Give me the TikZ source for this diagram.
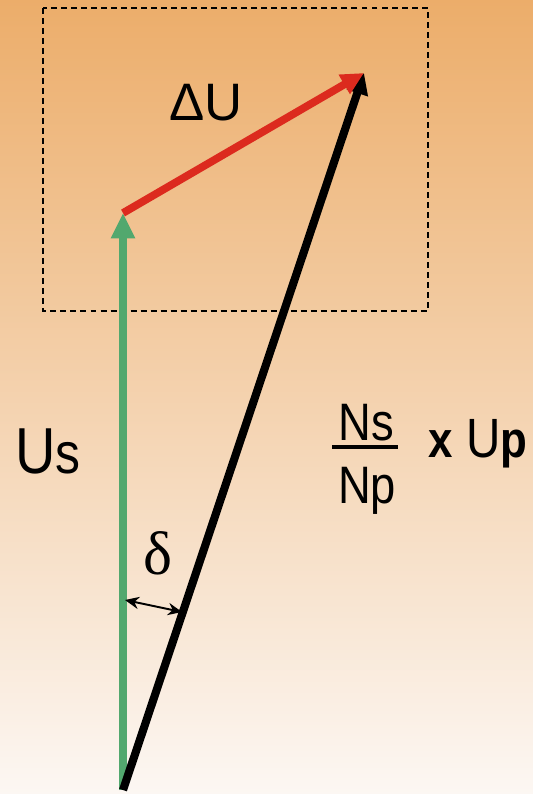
\documentclass[tikz,border=0pt]{standalone}
\usepackage{fontspec}
\setmainfont{Liberation Sans}
\newfontfamily\narrowSans[FakeStretch=0.86]{Liberation Sans}
\newfontfamily\greekSerif{Liberation Serif}
\usepackage{xcolor}
\definecolor{bgTop}{RGB}{236, 173, 106}
\definecolor{bgMid}{RGB}{246, 216, 192}
\definecolor{bgBottom}{RGB}{252, 247, 243}
\definecolor{usGreen}{RGB}{82, 168, 110}
\definecolor{duRed}{RGB}{220, 42, 30}
\usepackage{tikz}
\usetikzlibrary{
    arrows.meta,
    positioning,
    calc
}

\begin{document}
\begin{tikzpicture}[
    x=0.02cm, y=-0.02cm,
    phasorUs/.style={
        draw=usGreen, line width=4.2pt,
        -{Triangle[length=14.5pt, width=13pt]}
    },
    phasorDelta/.style={
        draw=duRed, line width=4.4pt,
        -{Triangle[length=13pt, width=12pt]}
    },
    phasorUp/.style={
        draw=black, line width=4.6pt,
        -{Triangle[length=12pt, width=12pt]}
    },
    zoomBox/.style={
        draw=black, line width=0.85pt, dash pattern=on 3.4pt off 2.3pt
    },
    angleArrow/.style={
        {Stealth[length=8pt, width=7pt]}-{Stealth[length=8pt, width=7pt]},
        line width=1.1pt, draw=black
    },
    fracBar/.style={
        draw=black, line width=2.3pt
    },
    narrowLabel/.style={
        font=\narrowSans\fontsize{30pt}{30pt}\selectfont,
        inner sep=0pt, anchor=base
    },
    plainLabel/.style={
        font=\fontsize{30pt}{30pt}\selectfont,
        inner sep=0pt, anchor=base
    }
]

    % Background
    \shade[top color=bgTop, middle color=bgMid, bottom color=bgBottom]
        (0,0) rectangle (533,794);
    \useasboundingbox (0,0) rectangle (533,794);

    % Zoomed region
    \draw[zoomBox] (43,8) rectangle (428,311);

    % Phasor points
    \coordinate (origin) at (123,790);
    \coordinate (usTip) at (123,213);
    \coordinate (upTip) at (364,73);
    \coordinate (deltaStart) at (125,600);
    \coordinate (deltaEnd) at (182,612);

    % Phasors
    \draw[phasorUs] (origin) -- (usTip);
    \draw[phasorUp] (origin) -- (upTip);
    \draw[phasorDelta] (usTip) -- (upTip);

    % Angle
    \draw[angleArrow] (deltaStart) -- (deltaEnd);
    \node[plainLabel, font=\greekSerif\fontsize{35pt}{35pt}\selectfont] (lblDelta) at (158,574) {δ};

    % Labels
    \node[plainLabel] (lblDU) at (206,120) {ΔU};
    \node[narrowLabel, font=\narrowSans\fontsize{37pt}{37pt}\selectfont] (lblUs) at (48,473)
        {U{\fontsize{33pt}{33pt}\selectfont s}};
    \node[narrowLabel] (lblNs) at (366,440) {Ns};
    \node[narrowLabel] (lblNp) at (367,503) {Np};
    \draw[fracBar] (332,447) -- (398,447);
    \node[narrowLabel, font=\narrowSans\fontsize{31.5pt}{31.5pt}\selectfont] (lblUp) at (478,457)
        {{\bfseries\fontsize{29pt}{29pt}\selectfont x} U{\bfseries\fontsize{29pt}{29pt}\selectfont p}};

\end{tikzpicture}
\end{document}
